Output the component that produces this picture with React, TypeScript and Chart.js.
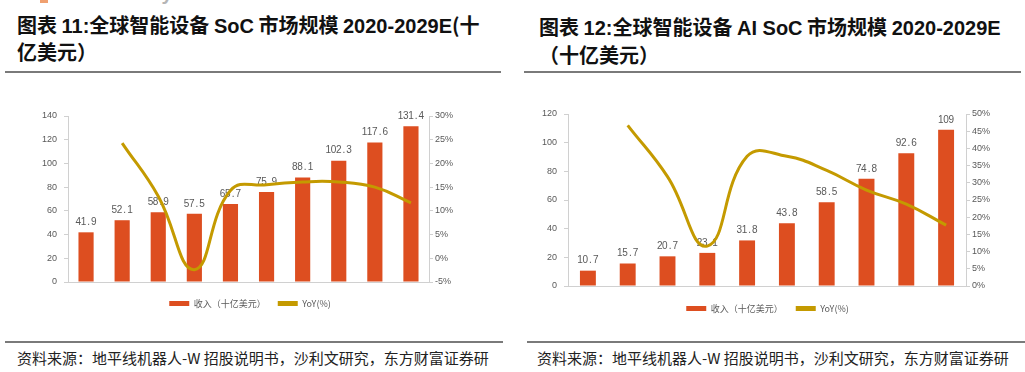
import React, { useEffect, useRef } from 'react';
import { Chart, registerables } from 'chart.js';

Chart.register(...registerables);

// ---------- data ----------
const categories = ['2020', '2021', '2022', '2023', '2024', '2025E', '2026E', '2027E', '2028E', '2029E'];

const socRevenue = [41.9, 52.1, 58.9, 57.5, 65.7, 75.9, 88.1, 102.3, 117.6, 131.4];
const socRevenueLabels = ['41.9', '52.1', '58.9', '57.5', '65.7', '75.9', '88.1', '102.3', '117.6', '131.4'];
const socYoY = [null, 24.3, 13.1, -2.4, 14.3, 15.5, 16.1, 16.1, 15.0, 11.7];

const aiRevenue = [10.7, 15.7, 20.7, 23.1, 31.8, 43.8, 58.5, 74.8, 92.6, 109];
const aiRevenueLabels = ['10.7', '15.7', '20.7', '23.1', '31.8', '43.8', '58.5', '74.8', '92.6', '109'];
const aiYoY = [null, 46.7, 31.8, 11.6, 37.7, 37.7, 33.6, 27.9, 23.8, 17.7];

const socLeftAxis = { min: 0, max: 140, step: 20 };
const socRightAxis = { min: -5, max: 30, step: 5 };
const aiLeftAxis = { min: 0, max: 120, step: 20 };
const aiRightAxis = { min: 0, max: 50, step: 5 };

const legendNames = ['收入（十亿美元）', 'YoY(%)'];

const BAR_COLOR = '#DD4E20';
const LINE_COLOR = '#C49A00';
const AXIS_COLOR = '#D0D0D0';
const TEXT_COLOR = '#595959';
const LATIN = '"Liberation Sans", Arial, sans-serif';
const CJK = '"Noto Sans CJK SC", sans-serif';

const barLabelPlugin = {
  id: 'barLabels',
  afterDatasetDraw(chart: any, args: any, opts: any) {
    if (args.index !== 0) return;
    const texts: string[] = opts.texts || [];
    const ctx = chart.ctx;
    ctx.save();
    ctx.font = '10px ' + LATIN;
    ctx.fillStyle = TEXT_COLOR;
    ctx.textAlign = 'center';
    ctx.textBaseline = 'middle';
    const cw = 5.2;
    args.meta.data.forEach((el: any, i: number) => {
      const s = texts[i];
      if (!s) return;
      const start = el.x - (s.length * cw) / 2 + cw / 2;
      for (let k = 0; k < s.length; k++) {
        ctx.fillText(s[k], start + k * cw, el.y - 10);
      }
    });
    ctx.restore();
  },
};

type ComboProps = {
  revenue: number[];
  labels: string[];
  yoy: (number | null)[];
  left: { min: number; max: number; step: number };
  right: { min: number; max: number; step: number };
  leftW: number;
  rightW: number;
  padTop: number;
  legendPad: number;
  barPct: number;
  x: number;
  y: number;
  w: number;
  h: number;
};

function ComboChart(p: ComboProps) {
  const ref = useRef<HTMLCanvasElement>(null);
  useEffect(() => {
    if (!ref.current) return;
    const chart = new Chart(ref.current, {
      type: 'bar',
      data: {
        labels: categories,
        datasets: [
          {
            type: 'bar',
            label: legendNames[0],
            data: p.revenue,
            backgroundColor: BAR_COLOR,
            borderColor: BAR_COLOR,
            borderWidth: 0,
            categoryPercentage: 1,
            barPercentage: p.barPct,
            yAxisID: 'y',
            order: 1,
          } as any,
          {
            type: 'line',
            label: legendNames[1],
            data: p.yoy,
            borderColor: LINE_COLOR,
            backgroundColor: LINE_COLOR,
            borderWidth: 3,
            pointRadius: 0,
            tension: 0.45,
            yAxisID: 'y1',
            order: 0,
          } as any,
        ],
      },
      options: {
        animation: false,
        responsive: false,
        devicePixelRatio: 1,
        layout: { padding: { top: p.padTop, left: 0, right: 0, bottom: 0 } },
        scales: {
          x: {
            type: 'category',
            offset: true,
            grid: { display: false, drawTicks: false },
            border: { display: true, color: AXIS_COLOR },
            ticks: { padding: 6, color: TEXT_COLOR, font: { size: 9.5, family: LATIN }, maxRotation: 0, autoSkip: false },
            afterFit: (s: any) => { s.height = 5; },
          },
          y: {
            position: 'left',
            min: p.left.min,
            max: p.left.max,
            ticks: { stepSize: p.left.step, padding: 7, color: TEXT_COLOR, font: { size: 9, family: LATIN } },
            grid: { drawOnChartArea: false, drawTicks: true, tickLength: 4, color: AXIS_COLOR },
            border: { display: true, color: AXIS_COLOR },
            afterFit: (s: any) => { s.width = p.leftW; },
          },
          y1: {
            position: 'right',
            min: p.right.min,
            max: p.right.max,
            ticks: { stepSize: p.right.step, padding: 2, color: TEXT_COLOR, font: { size: 9, family: LATIN }, callback: (v: any) => v + '%' },
            grid: { drawOnChartArea: false, drawTicks: true, tickLength: 4, color: AXIS_COLOR },
            border: { display: true, color: AXIS_COLOR },
            afterFit: (s: any) => { s.width = p.rightW; },
          },
        } as any,
        plugins: {
          tooltip: { enabled: false },
          legend: {
            position: 'bottom',
            labels: {
              boxWidth: 20,
              boxHeight: 5,
              padding: p.legendPad,
              color: TEXT_COLOR,
              font: { size: 9, family: CJK },
              sort: (a: any, b: any) => a.datasetIndex - b.datasetIndex,
              generateLabels: (c: any) =>
                (Chart.defaults.plugins.legend.labels.generateLabels as any)(c).map((l: any) => ({
                  ...l,
                  lineWidth: 0,
                  fillStyle: l.datasetIndex === 0 ? BAR_COLOR : LINE_COLOR,
                  strokeStyle: l.datasetIndex === 0 ? BAR_COLOR : LINE_COLOR,
                })),
            },
          },
          barLabels: { texts: p.labels },
        } as any,
      },
      plugins: [barLabelPlugin as any],
    });
    return () => chart.destroy();
  }, []);
  return (
    <canvas
      ref={ref}
      width={p.w}
      height={p.h}
      style={{ position: 'absolute', left: p.x, top: p.y, width: p.w, height: p.h }}
    />
  );
}

const titleStyle: React.CSSProperties = {
  position: 'absolute',
  fontFamily: CJK,
  fontWeight: 700,
  fontSize: 20,
  color: '#111',
  whiteSpace: 'nowrap',
  lineHeight: '27px',
};
const lat: React.CSSProperties = { fontFamily: LATIN, fontSize: 20, fontWeight: 700 };

const ruleStyle = (x: number, y: number, w: number): React.CSSProperties => ({
  position: 'absolute',
  left: x,
  top: y,
  width: w,
  height: 2,
  background: '#7a7a7a',
});

const sourceStyle = (x: number): React.CSSProperties => ({
  position: 'absolute',
  left: x,
  top: 347,
  fontFamily: CJK,
  fontSize: 15,
  color: '#222',
  whiteSpace: 'nowrap',
  lineHeight: '21px',
});

export default function App() {
  return (
    <div style={{ position: 'absolute', left: 0, top: 0, width: 1025, height: 372, background: '#fff', overflow: 'hidden' }}>
      <div style={{ position: 'absolute', left: 66, top: -18, fontFamily: LATIN, fontWeight: 700, fontSize: 20, color: '#b5b5b5', whiteSpace: 'nowrap' }}>
        Eastmoney Securities
      </div>
      <div style={{ position: 'absolute', left: 40, top: 0, width: 8, height: 3, background: '#f0a070' }} />

      <div style={{ ...titleStyle, left: 17, top: 11 }}>
        图表 <span style={lat}>11:</span>全球智能设备 <span style={lat}>SoC</span> 市场规模 <span style={lat}>2020-2029E</span>(十
      </div>
      <div style={{ ...titleStyle, left: 17, top: 38 }}>亿美元）</div>

      <div style={{ ...titleStyle, left: 539, top: 13 }}>
        图表 <span style={lat}>12:</span>全球智能设备 <span style={lat}>AI SoC</span> 市场规模 <span style={lat}>2020-2029E</span>
      </div>
      <div style={{ ...titleStyle, left: 539, top: 41 }}>（十亿美元）</div>

      <div style={ruleStyle(5, 71, 496)} />
      <div style={ruleStyle(524, 71, 497)} />

      <ComboChart
        revenue={socRevenue}
        labels={socRevenueLabels}
        yoy={socYoY}
        left={socLeftAxis}
        right={socRightAxis}
        leftW={58}
        rightW={61}
        padTop={28}
        legendPad={12}
        barPct={0.42}
        x={10}
        y={88}
        w={480}
        h={230}
      />
      <ComboChart
        revenue={aiRevenue}
        labels={aiRevenueLabels}
        yoy={aiYoY}
        left={aiLeftAxis}
        right={aiRightAxis}
        leftW={48}
        rightW={49}
        padTop={28}
        legendPad={13}
        barPct={0.4}
        x={520}
        y={86}
        w={495}
        h={237}
      />

      <div style={ruleStyle(5, 341, 498)} />
      <div style={ruleStyle(527, 341, 498)} />

      <div style={sourceStyle(17)}>资料来源：地平线机器人-W 招股说明书，沙利文研究，东方财富证券研</div>
      <div style={sourceStyle(537)}>资料来源：地平线机器人-W 招股说明书，沙利文研究，东方财富证券研</div>
    </div>
  );
}
